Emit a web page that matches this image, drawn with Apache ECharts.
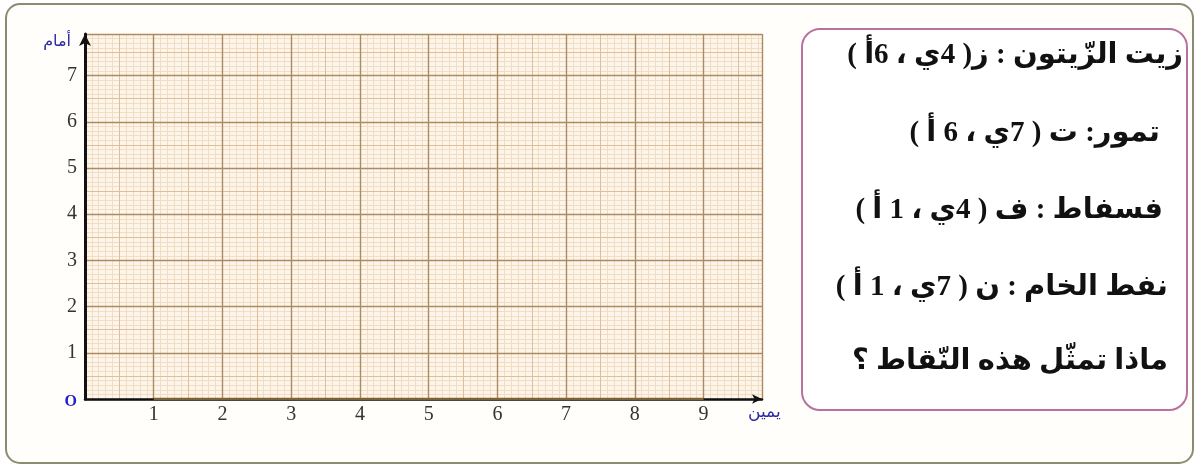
<!DOCTYPE html>
<html>
<head>
<meta charset="utf-8">
<script src="https://cdn.jsdelivr.net/npm/echarts@6/dist/echarts.min.js"></script>
<style>
html,body{margin:0;padding:0;background:#ffffff;}
#chart{width:1198px;height:468px;}
</style>
</head>
<body>
<div id="chart"></div>
<script>
// ---- data ----
const xTickLabels = ['', '1', '2', '3', '4', '5', '6', '7', '8', '9'];
const yTickLabels = ['O', '1', '2', '3', '4', '5', '6', '7'];
const xAxisName = 'يمين';
const yAxisName = 'أمام';
const xExtent = [0, 9.85];
const yExtent = [0, 7.9];
const axisSegmentX = [1, 9];
const infoLines = [
  'زيت الزّيتون : ز( 4ي ، 6أ )',
  'تمور: ت ( 7ي ، 6 أ )',
  'فسفاط : ف ( 4ي ، 1 أ )',
  'نفط الخام : ن ( 7ي ، 1 أ )',
  'ماذا تمثّل هذه النّقاط ؟'
];

// ---- layout / style ----
const lineRight = [1183, 1160, 1163, 1168, 1168];
const lineY = [56, 134, 211, 288, 362];
const textFont = 'bold 29px "Liberation Serif", "DejaVu Sans", sans-serif';

function isInt(v){ return Math.abs(v - Math.round(v)) < 1e-6; }

const chart = echarts.init(document.getElementById('chart'), null, {renderer: 'canvas'});

function gridAxis(dim, interval, color, width, z){
  return {
    type: 'value', gridIndex: 0, min: (dim === 'x' ? xExtent : yExtent)[0],
    max: (dim === 'x' ? xExtent : yExtent)[1], interval: interval, z: z,
    axisLine: {show: false}, axisTick: {show: false}, axisLabel: {show: false},
    splitLine: {show: true, lineStyle: {color: color, width: width}}
  };
}

const graphics = [
  {type: 'rect', z: -10, silent: true,
   shape: {x: 6, y: 4, width: 1187, height: 459, r: 14},
   style: {fill: '#fffefa', stroke: '#8c8b74', lineWidth: 2}},
  {type: 'rect', z: 5, silent: true,
   shape: {x: 802, y: 29, width: 385, height: 381, r: 18},
   style: {fill: '#ffffff', stroke: '#b8729c', lineWidth: 2}}
];
infoLines.forEach(function(t, i){
  graphics.push({
    type: 'text', z: 6, silent: true, x: lineRight[i], y: lineY[i],
    style: {text: '\u202B' + t + '\u202C', font: textFont, fill: '#111111',
            textAlign: 'right', textVerticalAlign: 'middle'}
  });
});

const option = {
  backgroundColor: '#ffffff',
  animation: false,
  grid: {left: 85, top: 34, right: 1198 - 762, bottom: 468 - 399, show: true,
         backgroundColor: '#fdf5ea', borderWidth: 0},
  graphic: graphics,
  xAxis: [
    {
      type: 'value', gridIndex: 0, min: xExtent[0], max: xExtent[1], interval: 1, z: 4,
      name: xAxisName, nameLocation: 'end', nameGap: -14,
      nameTextStyle: {color: '#2b2ba8', fontSize: 17, fontFamily: '"DejaVu Sans"',
                      align: 'left', verticalAlign: 'top', padding: [5, 0, 0, 0]},
      axisLine: {show: true, onZero: false, symbol: ['none', 'arrow'], symbolSize: [7, 10],
                 lineStyle: {color: '#111111', width: 2.5}},
      axisTick: {show: false},
      axisLabel: {show: true, margin: 6, color: '#333333', fontSize: 20,
                  fontFamily: '"Liberation Serif", serif',
                  formatter: function(v){ return isInt(v) ? (xTickLabels[Math.round(v)] || '') : ''; }},
      splitLine: {show: true, lineStyle: {color: '#ac8b62', width: 1.4}}
    },
    gridAxis('x', 0.1, '#f1dcc4', 1, 1),
    gridAxis('x', 0.5, '#ddc09a', 1, 2)
  ],
  yAxis: [
    {
      type: 'value', gridIndex: 0, min: yExtent[0], max: yExtent[1], interval: 1, z: 4,
      name: yAxisName, nameLocation: 'end', nameGap: -8,
      nameTextStyle: {color: '#2b2ba8', fontSize: 16, fontFamily: '"DejaVu Sans"',
                      align: 'right', verticalAlign: 'middle', padding: [0, 14, 0, 0]},
      axisLine: {show: true, onZero: false, symbol: ['none', 'arrow'], symbolSize: [9, 12],
                 lineStyle: {color: '#111111', width: 3}},
      axisTick: {show: false},
      axisLabel: {show: true, margin: 8, color: '#333333', fontSize: 20,
                  fontFamily: '"Liberation Serif", serif',
                  formatter: function(v){
                    if (!isInt(v)) return '';
                    const k = Math.round(v);
                    return k === 0 ? '{o|' + yTickLabels[0] + '}' : (yTickLabels[k] || '');
                  },
                  rich: {o: {color: '#2222c8', fontSize: 16, fontWeight: 'bold',
                             fontFamily: '"Liberation Serif", serif', padding: [6, 0, 0, 0]}}},
      splitLine: {show: true, lineStyle: {color: '#ac8b62', width: 1.4}}
    },
    gridAxis('y', 0.1, '#f1dcc4', 1, 1),
    gridAxis('y', 0.5, '#ddc09a', 1, 2)
  ],
  series: [
    {
      type: 'line', xAxisIndex: 0, yAxisIndex: 0, z: 10, silent: true,
      symbol: 'none', lineStyle: {color: '#7d6236', width: 2.5},
      data: [[axisSegmentX[0], 0], [axisSegmentX[1], 0]]
    }
  ]
};
chart.setOption(option);
</script>
</body>
</html>
